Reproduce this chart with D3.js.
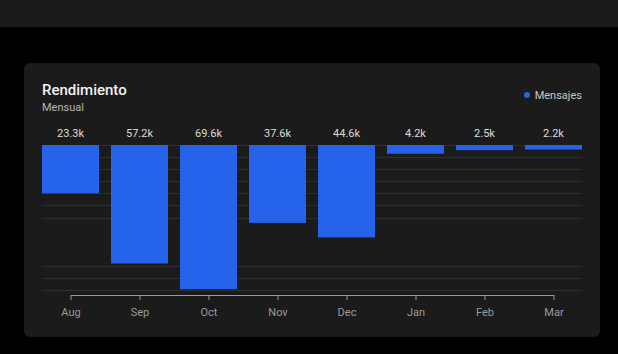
<!DOCTYPE html>
<html>
<head>
<meta charset="utf-8">
<script src="https://cdn.jsdelivr.net/npm/d3@7"></script>
<style>
  body { margin: 0; background: #000; }
  svg { display: block; font-family: Roboto, "Noto Sans", sans-serif; }
</style>
</head>
<body>
<div id="chart"></div>
<script>
// data
const months = ["Aug", "Sep", "Oct", "Nov", "Dec", "Jan", "Feb", "Mar"];
const mensajes = [23.3, 57.2, 69.6, 37.6, 44.6, 4.2, 2.5, 2.2]; // thousands
const gridTicks = [0, 5.83, 11.67, 17.5, 23.33, 29.17, 35, 58.33, 64.17, 70];

const width = 618, height = 354;

const svg = d3.select("#chart").append("svg")
  .attr("width", width)
  .attr("height", height);

// top strip + card
svg.append("rect").attr("x", 0).attr("y", 0).attr("width", width).attr("height", 27).attr("fill", "#1b1b1b");
svg.append("rect")
  .attr("x", 24).attr("y", 63).attr("width", 576).attr("height", 274)
  .attr("rx", 6).attr("fill", "#1b1b1b");

svg.append("text").attr("x", 42).attr("y", 95)
  .text("Rendimiento")
  .attr("fill", "#f2f2f2").style("font-size", "15px").style("font-weight", 500);
svg.append("text").attr("x", 42).attr("y", 111)
  .text("Mensual")
  .attr("fill", "#b5b5b5").style("font-size", "11px");

// legend
svg.append("circle").attr("cx", 527).attr("cy", 95).attr("r", 3).attr("fill", "#2563eb");
svg.append("text").attr("x", 582).attr("y", 98.5)
  .attr("text-anchor", "end")
  .text("Mensajes")
  .attr("fill", "#c8c8c8").style("font-size", "11px");

// scales
const x = d3.scaleBand()
  .domain(months)
  .range([42, 582])
  .paddingInner(0.174)
  .paddingOuter(0);

const y = d3.scaleLinear()
  .domain([0, 70])
  .range([145, 290]);

// grid
svg.append("g").selectAll("line")
  .data(gridTicks)
  .join("line")
  .attr("x1", 42).attr("x2", 582)
  .attr("y1", d => Math.round(y(d)) + 0.5)
  .attr("y2", d => Math.round(y(d)) + 0.5)
  .attr("stroke", "#2f2f2f");

// bars
svg.append("g").selectAll("rect")
  .data(mensajes)
  .join("rect")
  .attr("x", (d, i) => x(months[i]))
  .attr("y", y(0))
  .attr("width", x.bandwidth())
  .attr("height", d => y(d) - y(0))
  .attr("fill", "#2563eb");

// value labels
svg.append("g").selectAll("text")
  .data(mensajes)
  .join("text")
  .attr("x", (d, i) => x(months[i]) + x.bandwidth() / 2)
  .attr("y", 137)
  .attr("text-anchor", "middle")
  .attr("fill", "#dcdcdc")
  .style("font-size", "11px")
  .text(d => d3.format(".1f")(d) + "k");

// x axis
const xPoint = d3.scalePoint()
  .domain(months)
  .range([x(months[0]) + x.bandwidth() / 2, x(months[months.length - 1]) + x.bandwidth() / 2]);

const xAxis = d3.axisBottom(xPoint).tickSize(5).tickSizeOuter(0).tickPadding(8);

const gx = svg.append("g")
  .attr("transform", "translate(0,295)")
  .call(xAxis);
gx.select(".domain").attr("stroke", "#9a9aa2");
gx.selectAll(".tick line").attr("stroke", "#9a9aa2");
gx.selectAll(".tick text")
  .attr("fill", "#9a9a9a")
  .style("font-size", "11px")
  .style("font-family", "Roboto, 'Noto Sans', sans-serif");
</script>
</body>
</html>
